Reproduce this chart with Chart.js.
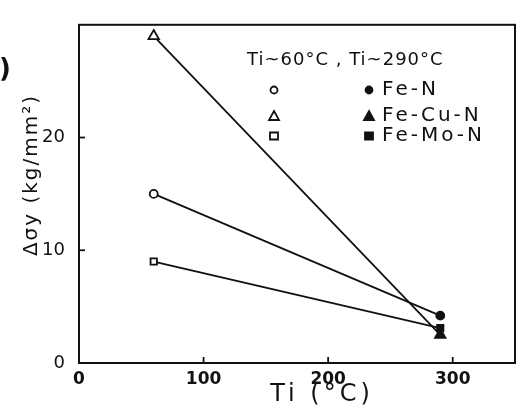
<!DOCTYPE html>
<html>
<head>
<meta charset="utf-8">
<script src="https://cdn.jsdelivr.net/npm/chart.js@4.4.1/dist/chart.umd.min.js"></script>
<style>
  html, body { margin: 0; padding: 0; background: #fff; }
  #wrap { width: 531px; height: 412px; position: relative; }
</style>
</head>
<body>
<div id="wrap"><canvas id="myChart"></canvas></div>
<script>
// 読み取った値
const temps = [60, 290];
const feN = [15, 4.2];
const feCuN = [29, 2.5];
const feMoN = [9, 3.1];
const seriesNames = ['Fe-N', 'Fe-Cu-N', 'Fe-Mo-N'];
const xTicks = [0, 100, 200, 300];
const yTicks = [0, 10, 20];

const ink = '#111';
const toPoints = vals => temps.map((t, i) => ({ x: t, y: vals[i] }));

// 内向きの目盛り・枠・凡例・軸タイトル
const decor = {
  id: 'decor',
  afterDraw(chart) {
    const { ctx, chartArea: a, scales } = chart;
    ctx.save();
    ctx.strokeStyle = ink;
    ctx.lineWidth = 2;
    ctx.strokeRect(a.left, a.top, a.right - a.left, a.bottom - a.top);

    ctx.lineWidth = 1.8;
    xTicks.slice(1).forEach(v => {
      const x = scales.x.getPixelForValue(v);
      ctx.beginPath(); ctx.moveTo(x, a.bottom); ctx.lineTo(x, a.bottom - 6); ctx.stroke();
    });
    yTicks.slice(1).forEach(v => {
      const y = scales.y.getPixelForValue(v);
      ctx.beginPath(); ctx.moveTo(a.left, y); ctx.lineTo(a.left + 6, y); ctx.stroke();
    });

    // 凡例
    ctx.fillStyle = ink;
    ctx.textBaseline = 'middle';
    ctx.font = '18px "DejaVu Sans"';
    ctx.letterSpacing = '1px';
    ctx.fillText('Ti~60°C , Ti~290°C', 247, 60);
    const rows = [90, 116, 136];
    const styles = ['circle', 'triangle', 'rect'];
    ctx.font = '20px "DejaVu Sans"';
    ctx.letterSpacing = '3px';
    rows.forEach((y, i) => {
      marker(ctx, styles[i], 274, y, false);
      marker(ctx, styles[i], 369, y, true);
      ctx.fillText(seriesNames[i], 382, y);
    });

    // 軸タイトル
    ctx.font = '24px "DejaVu Sans"';
    ctx.letterSpacing = '4px';
    ctx.textAlign = 'center';
    ctx.fillText('Ti (°C)', 322, 395);
    ctx.save();
    ctx.translate(32, 175);
    ctx.rotate(-Math.PI / 2);
    ctx.font = '20px "DejaVu Sans"';
    ctx.letterSpacing = '2px';
    ctx.fillText('Δσy (kg/mm²)', 0, 0);
    ctx.restore();
    ctx.letterSpacing = '0px';
    ctx.font = 'bold 26px "DejaVu Sans"';
    ctx.fillText(')', 5, 70);
    ctx.restore();
  }
};

function marker(ctx, style, x, y, filled) {
  ctx.save();
  ctx.lineWidth = 1.8;
  ctx.strokeStyle = ink;
  ctx.fillStyle = filled ? ink : '#fff';
  ctx.beginPath();
  if (style === 'circle') {
    ctx.arc(x, y, 3.5, 0, Math.PI * 2);
  } else if (style === 'triangle') {
    ctx.moveTo(x, y - 5); ctx.lineTo(x + 5, y + 4); ctx.lineTo(x - 5, y + 4); ctx.closePath();
  } else {
    ctx.rect(x - 4, y - 3.5, 8, 7);
  }
  ctx.fill(); ctx.stroke();
  ctx.restore();
}

const ds = (label, vals, style, r) => ({
  label,
  data: toPoints(vals),
  showLine: true,
  borderColor: ink,
  borderWidth: 1.8,
  pointStyle: style,
  pointRadius: r,
  pointBorderWidth: 1.8,
  pointBorderColor: ink,
  pointBackgroundColor: ['#fff', ink]
});

const ctx = document.getElementById('myChart').getContext('2d');
const myChart = new Chart(ctx, {
  type: 'scatter',
  data: {
    datasets: [
      ds(seriesNames[0], feN, 'circle', 4),
      ds(seriesNames[1], feCuN, 'triangle', 6),
      ds(seriesNames[2], feMoN, 'rect', 4.5)
    ]
  },
  options: {
    responsive: true,
    maintainAspectRatio: false,
    animation: false,
    layout: { padding: { left: 0, top: 8, right: 16, bottom: 0 } },
    plugins: { legend: { display: false }, tooltip: { enabled: false } },
    scales: {
      x: {
        type: 'linear', min: 0, max: 350,
        afterBuildTicks: s => { s.ticks = xTicks.map(v => ({ value: v })); },
        afterFit: s => { s.height = 49; },
        grid: { display: false, drawTicks: false },
        border: { display: true, color: ink, width: 2 },
        ticks: { color: ink, padding: 6, font: { family: 'DejaVu Sans', size: 17, weight: 'bold' } }
      },
      y: {
        type: 'linear', min: 0, max: 30,
        afterBuildTicks: s => { s.ticks = yTicks.map(v => ({ value: v })); },
        afterFit: s => { s.width = 79; },
        grid: { display: false, drawTicks: false },
        border: { display: true, color: ink, width: 2 },
        ticks: { color: ink, padding: 14, font: { family: 'DejaVu Sans', size: 18 } }
      }
    }
  },
  plugins: [decor]
});
</script>
</body>
</html>
